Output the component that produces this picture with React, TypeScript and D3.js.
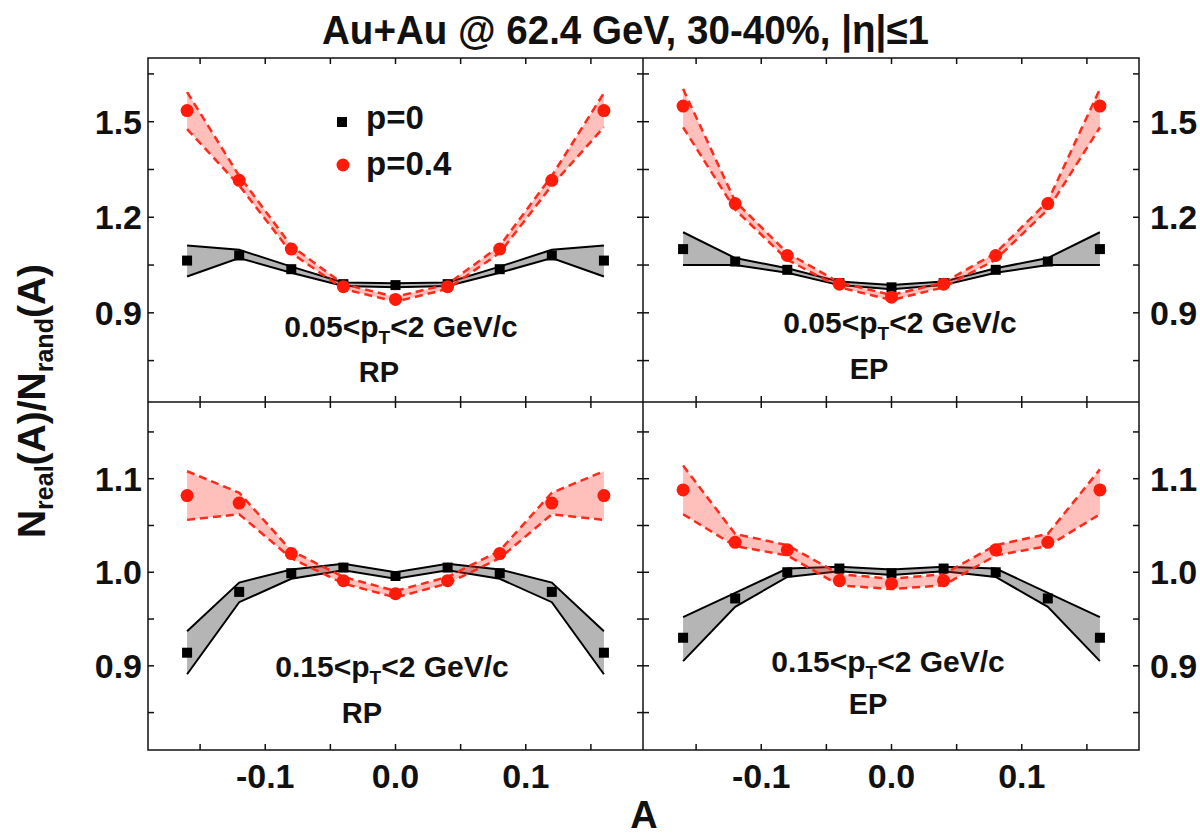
import React from "react";
import * as d3 from "d3";

const A = [-0.16, -0.12, -0.08, -0.04, 0, 0.04, 0.08, 0.12, 0.16];

// Top-left: RP, 0.05<pT<2
const rpTopP0 = [1.064, 1.08, 1.037, 0.99, 0.987, 0.99, 1.037, 1.08, 1.064];
const rpTopP0Hi = [1.111, 1.098, 1.045, 0.995, 0.993, 0.995, 1.045, 1.098, 1.111];
const rpTopP0Lo = [1.014, 1.072, 1.026, 0.984, 0.98, 0.984, 1.026, 1.072, 1.014];
const rpTopP4 = [1.535, 1.316, 1.1, 0.982, 0.942, 0.982, 1.1, 1.316, 1.535];
const rpTopP4Hi = [1.593, 1.33, 1.11, 0.99, 0.95, 0.99, 1.11, 1.33, 1.59];
const rpTopP4Lo = [1.477, 1.3, 1.088, 0.975, 0.935, 0.975, 1.088, 1.3, 1.483];

// Top-right: EP, 0.05<pT<2
const epTopP0 = [1.1, 1.061, 1.035, 0.993, 0.98, 0.993, 1.035, 1.061, 1.1];
const epTopP0Hi = [1.153, 1.072, 1.04, 0.998, 0.987, 0.998, 1.04, 1.072, 1.153];
const epTopP0Lo = [1.05, 1.05, 1.026, 0.987, 0.974, 0.987, 1.026, 1.05, 1.05];
const epTopP4 = [1.549, 1.243, 1.08, 0.99, 0.949, 0.99, 1.08, 1.243, 1.549];
const epTopP4Hi = [1.603, 1.25, 1.088, 0.995, 0.956, 0.995, 1.088, 1.25, 1.603];
const epTopP4Lo = [1.482, 1.224, 1.067, 0.98, 0.94, 0.98, 1.067, 1.224, 1.482];

// Bottom-left: RP, 0.15<pT<2
const rpBotP0 = [0.914, 0.979, 0.999, 1.005, 0.996, 1.005, 0.999, 0.979, 0.914];
const rpBotP0Hi = [0.937, 0.989, 1.003, 1.009, 1.0, 1.009, 1.003, 0.989, 0.937];
const rpBotP0Lo = [0.891, 0.968, 0.993, 1.002, 0.993, 1.002, 0.993, 0.968, 0.891];
const rpBotP4 = [1.082, 1.074, 1.02, 0.991, 0.977, 0.991, 1.02, 1.074, 1.082];
const rpBotP4Hi = [1.108, 1.085, 1.023, 0.995, 0.98, 0.995, 1.023, 1.085, 1.108];
const rpBotP4Lo = [1.056, 1.062, 1.015, 0.988, 0.973, 0.988, 1.015, 1.062, 1.056];

// Bottom-right: EP, 0.15<pT<2
const epBotP0 = [0.93, 0.972, 1.0, 1.004, 0.999, 1.004, 1.0, 0.972, 0.93];
const epBotP0Hi = [0.952, 0.978, 1.004, 1.006, 1.003, 1.006, 1.004, 0.978, 0.952];
const epBotP0Lo = [0.905, 0.963, 0.995, 1.001, 0.997, 1.001, 0.995, 0.963, 0.905];
const epBotP4 = [1.088, 1.032, 1.024, 0.991, 0.988, 0.991, 1.024, 1.032, 1.088];
const epBotP4Hi = [1.114, 1.041, 1.029, 0.998, 0.993, 0.998, 1.029, 1.041, 1.11];
const epBotP4Lo = [1.062, 1.028, 1.018, 0.986, 0.982, 0.986, 1.018, 1.028, 1.062];

const xTicks = [-0.15, -0.1, -0.05, 0, 0.05, 0.1, 0.15];
const xTickLabels = ["-0.1", "0.0", "0.1"];
const xLabelVals = [-0.1, 0, 0.1];
const yTopTicks = [0.75, 0.9, 1.05, 1.2, 1.35, 1.5, 1.65];
const yTopLabels = ["0.9", "1.2", "1.5"];
const yBotTicks = [0.85, 0.9, 0.95, 1.0, 1.05, 1.1, 1.15];
const yBotLabels = ["0.9", "1.0", "1.1"];

const FONT = "'Liberation Sans', Arial, Helvetica, sans-serif";

const L = 148, M = 643, R = 1139, T = 58, MY = 402, B = 750;

const xLeft = d3.scaleLinear().domain([-0.19, 0.19]).range([L, M]);
const xRight = d3.scaleLinear().domain([-0.19, 0.19]).range([M + 1, R]);
const yTop = d3.scaleLinear().domain([0.62, 1.7]).range([MY, T]);
const yBot = d3.scaleLinear().domain([0.81, 1.182]).range([B, MY]);

type PanelProps = {
  x: d3.ScaleLinear<number, number>;
  y: d3.ScaleLinear<number, number>;
  p0: number[]; p0Hi: number[]; p0Lo: number[];
  p4: number[]; p4Hi: number[]; p4Lo: number[];
  clipId: string;
};

function Panel({ x, y, p0, p0Hi, p0Lo, p4, p4Hi, p4Lo, clipId }: PanelProps) {
  const area = (hi: number[], lo: number[]) =>
    d3.area<number>().x((_, i) => x(A[i])).y0((_, i) => y(lo[i])).y1((_, i) => y(hi[i]))(A) || "";
  const line = (v: number[]) =>
    d3.line<number>().x((_, i) => x(A[i])).y((_, i) => y(v[i]))(A) || "";
  return (
    <g clipPath={`url(#${clipId})`}>
      <path d={area(p0Hi, p0Lo)} fill="#b5b5b5" stroke="none" />
      <path d={line(p0Hi)} fill="none" stroke="#000" strokeWidth={2} />
      <path d={line(p0Lo)} fill="none" stroke="#000" strokeWidth={2} />
      <path d={area(p4Hi, p4Lo)} fill="#ff2a1a" fillOpacity={0.3} stroke="none" />
      <path d={line(p4Hi)} fill="none" stroke="#ff2a1a" strokeWidth={2.5} strokeDasharray="8,5" />
      <path d={line(p4Lo)} fill="none" stroke="#ff2a1a" strokeWidth={2.5} strokeDasharray="8,5" />
      {p0.map((v, i) => (
        <rect key={"s" + i} x={x(A[i]) - 5} y={y(v) - 5} width={10} height={10} fill="#000" />
      ))}
      {p4.map((v, i) => (
        <circle key={"c" + i} cx={x(A[i])} cy={y(v)} r={6.5} fill="#ff1a0a" />
      ))}
    </g>
  );
}

function PtLabel({ cx, yb, lo }: { cx: number; yb: number; lo: string }) {
  return (
    <text x={cx} y={yb} textAnchor="middle" fontFamily={FONT} fontWeight="bold" fontSize={30} fill="#111">
      {lo}&lt;p
      <tspan fontSize={19} dy={7}>T</tspan>
      <tspan dy={-7}>&lt;2 GeV/c</tspan>
    </text>
  );
}

const TXT = { fontFamily: FONT, fontWeight: "bold" as const, fill: "#111" };

export default function App() {
  const tickLen = 6;
  const xs = [xLeft, xRight];
  const ticks: React.ReactNode[] = [];
  xs.forEach((x, k) => {
    xTicks.forEach((t, i) => {
      const px = x(t);
      ticks.push(<line key={`xt${k}-${i}`} x1={px} x2={px} y1={T} y2={T + tickLen} />);
      ticks.push(<line key={`xm${k}-${i}`} x1={px} x2={px} y1={MY - tickLen} y2={MY + tickLen} />);
      ticks.push(<line key={`xb${k}-${i}`} x1={px} x2={px} y1={B} y2={B - tickLen} />);
    });
  });
  [
    { y: yTop, t: yTopTicks, k: "t" },
    { y: yBot, t: yBotTicks, k: "b" },
  ].forEach(({ y, t, k }) => {
    t.forEach((v, i) => {
      const py = y(v);
      ticks.push(<line key={`yl${k}${i}`} x1={L} x2={L + tickLen} y1={py} y2={py} />);
      ticks.push(<line key={`ym${k}${i}`} x1={M - tickLen} x2={M + tickLen} y1={py} y2={py} />);
      ticks.push(<line key={`yr${k}${i}`} x1={R} x2={R - tickLen} y1={py} y2={py} />);
    });
  });

  const yLabelSets = [
    { y: yTop, labels: yTopLabels },
    { y: yBot, labels: yBotLabels },
  ];

  return (
    <svg width={1200} height={835} style={{ display: "block", position: "absolute", left: 0, top: 0 }}>
      <rect width={1200} height={835} fill="#fff" />
      <defs>
        <clipPath id="cTL"><rect x={L} y={T} width={M - L} height={MY - T} /></clipPath>
        <clipPath id="cTR"><rect x={M} y={T} width={R - M} height={MY - T} /></clipPath>
        <clipPath id="cBL"><rect x={L} y={MY} width={M - L} height={B - MY} /></clipPath>
        <clipPath id="cBR"><rect x={M} y={MY} width={R - M} height={B - MY} /></clipPath>
      </defs>

      <text x={322} y={44} fontSize={40} textLength={607} lengthAdjust="spacingAndGlyphs" {...TXT}>
        Au+Au @ 62.4 GeV, 30-40%, |η|≤1
      </text>

      <Panel x={xLeft} y={yTop} p0={rpTopP0} p0Hi={rpTopP0Hi} p0Lo={rpTopP0Lo} p4={rpTopP4} p4Hi={rpTopP4Hi} p4Lo={rpTopP4Lo} clipId="cTL" />
      <Panel x={xRight} y={yTop} p0={epTopP0} p0Hi={epTopP0Hi} p0Lo={epTopP0Lo} p4={epTopP4} p4Hi={epTopP4Hi} p4Lo={epTopP4Lo} clipId="cTR" />
      <Panel x={xLeft} y={yBot} p0={rpBotP0} p0Hi={rpBotP0Hi} p0Lo={rpBotP0Lo} p4={rpBotP4} p4Hi={rpBotP4Hi} p4Lo={rpBotP4Lo} clipId="cBL" />
      <Panel x={xRight} y={yBot} p0={epBotP0} p0Hi={epBotP0Hi} p0Lo={epBotP0Lo} p4={epBotP4} p4Hi={epBotP4Hi} p4Lo={epBotP4Lo} clipId="cBR" />

      <g stroke="#111" strokeWidth={1.5} fill="none">
        <rect x={L} y={T} width={R - L} height={B - T} />
        <line x1={M} x2={M} y1={T} y2={B} />
        <line x1={L} x2={R} y1={MY} y2={MY} />
        {ticks}
      </g>

      {/* legend */}
      <rect x={337} y={117} width={10} height={10} fill="#000" />
      <text x={366} y={129} fontSize={33} {...TXT}>p=0</text>
      <circle cx={343} cy={165} r={6.5} fill="#ff1a0a" />
      <text x={366} y={175} fontSize={33} {...TXT}>p=0.4</text>

      {/* panel annotations */}
      <PtLabel cx={401} yb={337} lo="0.05" />
      <text x={379} y={382} textAnchor="middle" fontSize={29} {...TXT}>RP</text>
      <PtLabel cx={900} yb={333} lo="0.05" />
      <text x={869} y={379} textAnchor="middle" fontSize={29} {...TXT}>EP</text>
      <PtLabel cx={392} yb={677} lo="0.15" />
      <text x={362} y={723} textAnchor="middle" fontSize={29} {...TXT}>RP</text>
      <PtLabel cx={888} yb={672} lo="0.15" />
      <text x={868} y={714} textAnchor="middle" fontSize={29} {...TXT}>EP</text>

      {/* x tick labels */}
      {xs.map((x, k) =>
        xLabelVals.map((v, i) => (
          <text key={`xl${k}${i}`} x={x(v)} y={788} textAnchor="middle" fontSize={34} {...TXT}>
            {xTickLabels[i]}
          </text>
        ))
      )}

      {/* y tick labels */}
      {yLabelSets.map(({ y, labels }, k) =>
        labels.map((lab) => (
          <React.Fragment key={`yl${k}${lab}`}>
            <text x={142} y={y(parseFloat(lab)) + 12} textAnchor="end" fontSize={34} {...TXT}>{lab}</text>
            <text x={1150} y={y(parseFloat(lab)) + 12} textAnchor="start" fontSize={34} {...TXT}>{lab}</text>
          </React.Fragment>
        ))
      )}

      {/* axis titles */}
      <text x={644} y={828} textAnchor="middle" fontSize={38} {...TXT}>A</text>
      <text transform="translate(45,401) rotate(-90)" textAnchor="middle" fontSize={39} {...TXT}>
        N<tspan fontSize={25} dy={8}>real</tspan>
        <tspan dy={-8}>(A)/N</tspan>
        <tspan fontSize={25} dy={8}>rand</tspan>
        <tspan dy={-8}>(A)</tspan>
      </text>
    </svg>
  );
}
